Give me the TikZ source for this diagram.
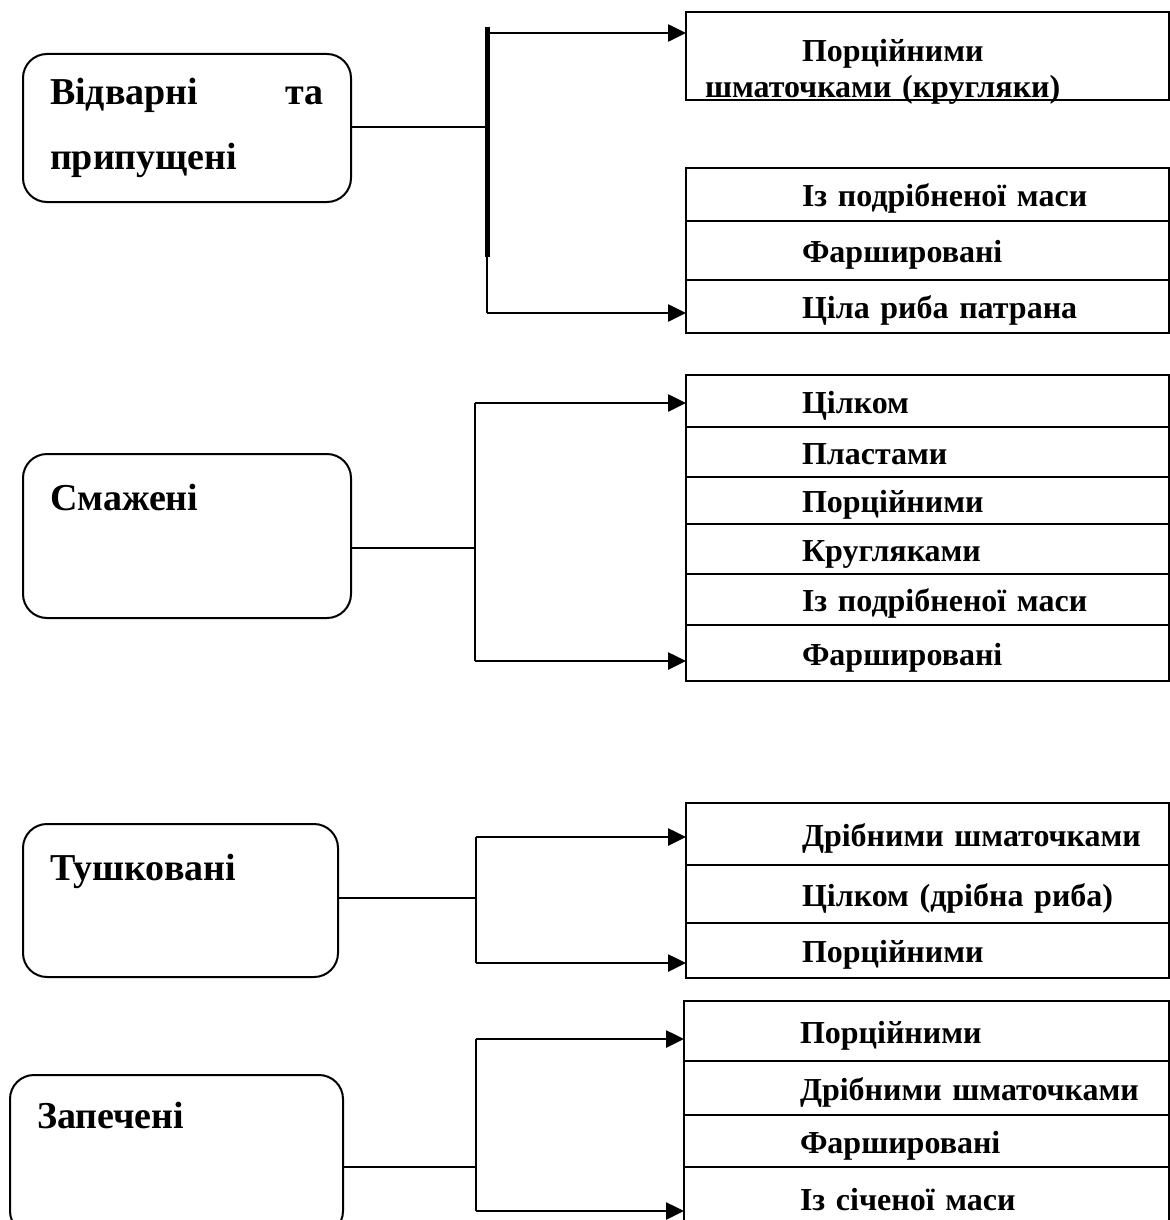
\documentclass[tikz,border=0pt]{standalone}
\usepackage{fontspec}
\setmainfont{Liberation Serif}
\usetikzlibrary{arrows.meta}
\newcommand{\kindfont}{\fontsize{19pt}{32.5pt}\selectfont\bfseries}
\newcommand{\sortfont}{\fontsize{16pt}{17.5pt}\selectfont\bfseries}
\newcommand{\indt}{\hspace*{58pt}}

\begin{document}
\begin{tikzpicture}[
		x=0.5pt, y=-0.5pt,
		line width=1pt,
		kind/.style={draw, rounded corners=12pt, anchor=north west, inner xsep=13.5pt, inner ysep=0pt, outer sep=0pt, align=left, font=\kindfont},
		sort/.style={draw, anchor=north west, inner sep=0pt, outer sep=0pt, text width=241.5pt, text height=16.5pt, text depth=4.5pt, align=left, font=\sortfont},
		link/.style={line width=1pt},
		arr/.style={line width=1.3pt, -{Triangle[length=9pt, width=8.5pt]}}
		]

	\clip (0,0) rectangle (1170,1220);

	% Відварні та припущені
	\node[kind, text width=137pt, minimum height=74pt] (boil) at (23,54) {Відварні\hfill та\\припущені};
	\node[sort, minimum height=44pt, text height=25pt, text depth=19pt] (boilA) at (686,12) {\indt Порційними\\\hspace*{9.5pt}шматочками (кругляки)};
	\node[sort, minimum height=26.5pt] (boilB) at (686,168) {\indt Із подрібненої маси};
	\node[sort, minimum height=29.5pt] (boilC) at (686,221) {\indt Фаршировані};
	\node[sort, minimum height=26.5pt] (boilD) at (686,280) {\indt Ціла риба патрана};

	\coordinate (t1) at (487,33);
	\coordinate (j1) at (487,127);
	\coordinate (m1) at (487,257);
	\coordinate (b1) at (487,313);
	\draw[link] (boil.east |- j1) -- (j1);
	\draw[link] (t1) ++(0,-6) -- (b1);
	\draw[line width=2.5pt] (t1) ++(0,-6) -- (m1);
	\draw[arr] (t1) -- (boilA.west |- t1);
	\draw[arr] (b1) -- (boilD.west |- b1);

	% Смажені
	\node[kind, text width=137pt, text height=28pt, text depth=54pt] (fry) at (23,454) {Смажені};
	\node[sort, minimum height=26pt] (fryA) at (686,375) {\indt Цілком};
	\node[sort, minimum height=25pt] (fryB) at (686,427) {\indt Пластами};
	\node[sort, minimum height=23.5pt] (fryC) at (686,477) {\indt Порційними};
	\node[sort, minimum height=25pt] (fryD) at (686,524) {\indt Кругляками};
	\node[sort, minimum height=25.5pt] (fryE) at (686,574) {\indt Із подрібненої маси};
	\node[sort, minimum height=28pt] (fryF) at (686,625) {\indt Фаршировані};

	\coordinate (t2) at (475,403);
	\coordinate (j2) at (475,548);
	\coordinate (b2) at (475,661);
	\draw[link] (fry.east |- j2) -- (j2);
	\draw[link] (t2) -- (b2);
	\draw[arr] (t2) -- (fryA.west |- t2);
	\draw[arr] (b2) -- (fryF.west |- b2);

	% Тушковані
	\node[kind, text width=130.5pt, text height=28pt, text depth=48.5pt] (stew) at (23,824) {Тушковані};
	\node[sort, minimum height=31pt] (stewA) at (686,803) {\indt Дрібними шматочками};
	\node[sort, minimum height=29pt] (stewB) at (686,865) {\indt Цілком (дрібна риба)};
	\node[sort, minimum height=27.5pt] (stewC) at (686,923) {\indt Порційними};

	\coordinate (t3) at (476,837);
	\coordinate (j3) at (476,898);
	\coordinate (b3) at (476,963);
	\draw[link] (stew.east |- j3) -- (j3);
	\draw[link] (t3) -- (b3);
	\draw[arr] (t3) -- (stewA.west |- t3);
	\draw[arr] (b3) -- (stewC.west |- b3);

	% Запечені
	\node[kind, text width=139.5pt, text height=26.5pt, text depth=53.5pt] (bake) at (10,1075) {Запечені};
	\node[sort, text width=242.5pt, minimum height=30pt] (bakeA) at (684,1001) {\indt Порційними};
	\node[sort, text width=242.5pt, minimum height=27pt] (bakeB) at (684,1061) {\indt Дрібними шматочками};
	\node[sort, text width=242.5pt, minimum height=26pt] (bakeC) at (684,1115) {\indt Фаршировані};
	\node[sort, text width=242.5pt, minimum height=31pt] (bakeD) at (684,1167) {\indt Із січеної маси};

	\coordinate (t4) at (476,1039);
	\coordinate (j4) at (476,1167);
	\coordinate (b4) at (476,1211);
	\draw[link] (bake.east |- j4) -- (j4);
	\draw[link] (t4) -- (b4);
	\draw[arr] (t4) -- (bakeA.west |- t4);
	\draw[arr] (b4) -- (bakeD.west |- b4);

\end{tikzpicture}
\end{document}
